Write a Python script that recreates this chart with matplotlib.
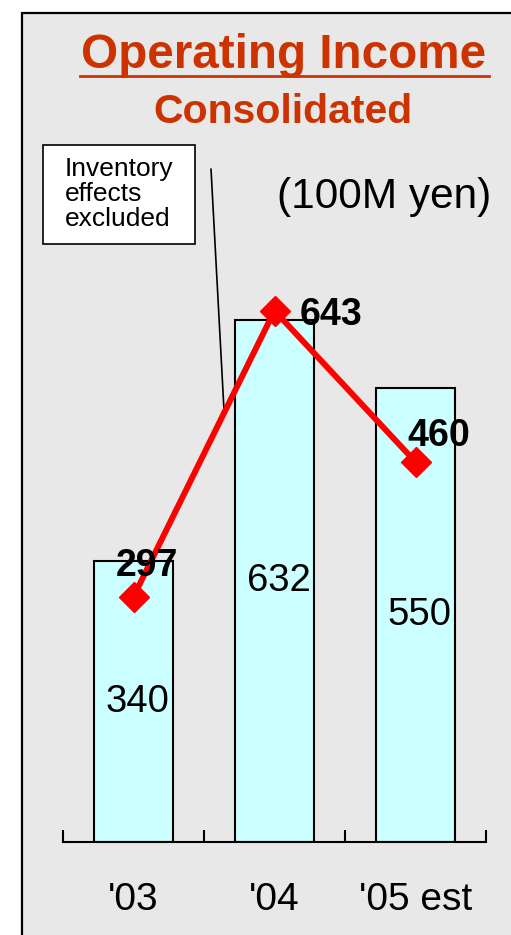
import matplotlib
matplotlib.use("Agg")
import matplotlib.pyplot as plt
from matplotlib.patches import Rectangle
from matplotlib.lines import Line2D

plt.rcParams['font.family'] = ['Liberation Sans', 'DejaVu Sans']

# Data (100M yen)
years = ["'03", "'04", "'05 est"]
income = [340, 632, 550]            # bars
income_ex_inventory = [297, 643, 460]  # red line, inventory effects excluded

W, H = 511, 935
fig = plt.figure(figsize=(W / 100, H / 100), dpi=100)
fig.patch.set_facecolor('white')

def fx(px):
    return px / W

def fy(py):
    return 1 - py / H

# gray panel with black border
panel = Rectangle((fx(22), -0.05), 1.1, fy(13) + 0.05, transform=fig.transFigure,
                  facecolor='#e8e8e8', edgecolor='black', linewidth=1.6, zorder=-10)
fig.patches.append(panel)

ax = fig.add_axes([fx(63), fy(842), fx(486) - fx(63), fy(100) - fy(842)])
ax.set_facecolor('none')
ax.set_zorder(1)
x = list(range(len(years)))

ax.bar(x, income, width=0.56, color='#ccffff', edgecolor='black', linewidth=1.5, zorder=2)
for xi, v in zip(x, income):
    ax.annotate(str(v), (xi, v / 2), xytext=(3, 0), textcoords='offset points',
                ha='center', va='center', fontsize=27.5, zorder=3)

ax.plot(x, income_ex_inventory, color='#ff0000', lw=4.3, marker='D', ms=15.5,
        mec='#ff0000', zorder=4)
offsets = [(10, 22), (41, -3), (17, 19)]
for xi, v, off in zip(x, income_ex_inventory, offsets):
    ax.annotate(str(v), (xi, v), xytext=off, textcoords='offset points',
                ha='center', va='center', fontsize=27, fontweight='bold', zorder=5)

ax.set_xlim(-0.5, 2.5)
ax.set_ylim(0, 898)
for s in ['top', 'right', 'left']:
    ax.spines[s].set_visible(False)
ax.spines['bottom'].set_linewidth(1.5)
ax.set_yticks([])
ax.set_xticks([-0.5, 0.5, 1.5, 2.5])
ax.set_xticklabels([])
ax.tick_params(axis='x', which='major', direction='in', length=9, width=1.5)
ax.set_xticks(x, minor=True)
ax.set_xticklabels(years, minor=True, fontsize=28)
ax.tick_params(axis='x', which='minor', length=0, pad=29)

# titles
fig.text(fx(284), fy(68), 'Operating Income', ha='center', va='baseline',
         fontsize=34.3, fontweight='bold', color='#cc3300')
fig.add_artist(Line2D([fx(80), fx(489)], [fy(76), fy(76)], color='#cc3300', lw=2))
fig.text(fx(283), fy(123), 'Consolidated', ha='center', va='baseline',
         fontsize=29.5, fontweight='bold', color='#cc3300')
fig.text(fx(384), fy(208), '(100M yen)', ha='center', va='baseline', fontsize=30.5)

# note box with leader line
box = Rectangle((fx(43), fy(244)), fx(195) - fx(43), fy(145) - fy(244),
                transform=fig.transFigure, facecolor='white', edgecolor='black',
                linewidth=1.2, zorder=3)
fig.patches.append(box)
fig.text(fx(65), fy(194), 'Inventory\neffects\nexcluded', ha='left', va='center',
         fontsize=19, linespacing=1.05, zorder=4)
ax.annotate('', xy=(0.642, 522), xycoords='data', xytext=(fx(211), fy(169)),
            textcoords='figure fraction',
            arrowprops=dict(arrowstyle='-', lw=1.2, color='black', shrinkA=0, shrinkB=0))

fig.savefig('out.png', dpi=100)
